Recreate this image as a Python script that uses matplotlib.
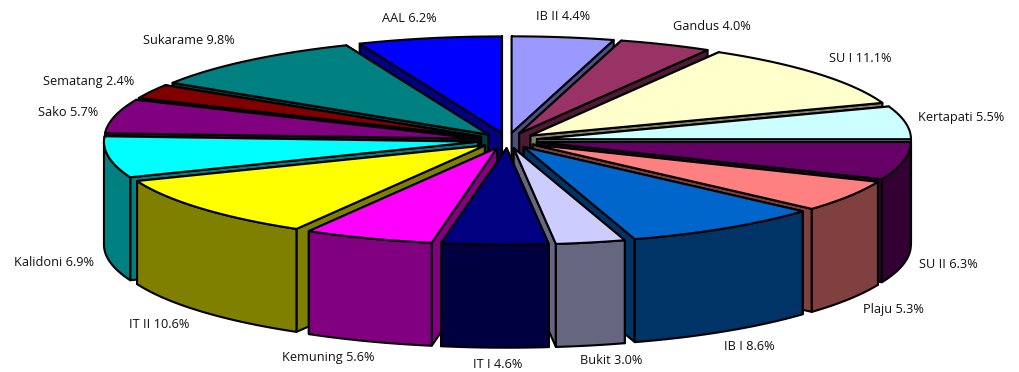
import numpy as np
import matplotlib
matplotlib.use('Agg')
from matplotlib import pyplot as plt
from matplotlib.colors import to_rgb
from matplotlib.patches import Polygon

plt.rcParams['font.family'] = ['Open Sans', 'DejaVu Sans']

names = ['IB II', 'Gandus', 'SU I', 'Kertapati', 'SU II', 'Plaju', 'IB I', 'Bukit',
         'IT I', 'Kemuning', 'IT II', 'Kalidoni', 'Sako', 'Sematang', 'Sukarame', 'AAL']
shares = [4.4, 4.0, 11.1, 5.5, 6.3, 5.3, 8.6, 3.0,
          4.6, 5.6, 10.6, 6.9, 5.7, 2.4, 9.8, 6.2]
colors = ['#9999FF', '#993366', '#FFFFCC', '#CCFFFF', '#660066', '#FF8080', '#0066CC', '#CCCCFF',
          '#000080', '#FF00FF', '#FFFF00', '#00FFFF', '#800080', '#800000', '#008080', '#0000FF']

# label centres in figure pixels
label_pos = [(563, 17), (712, 26), (860, 58), (961, 118), (948, 265), (893, 309), (749, 347), (611, 361),
             (498, 364), (328, 357), (159, 325), (54, 262), (68, 112), (89, 81), (189, 41), (409, 19)]

# disc geometry
cx, cy = 507.5, 140.5
rx, ry = 374, 96.5
depth = 103
explode = 30 / 375.0
lw = 1.5


def rim(theta, r=1.0):
    # theta in radians, clockwise from 12 o'clock
    return np.column_stack([r * rx * np.sin(theta), -r * ry * np.cos(theta)])


def face(ax, pts, color, z):
    ax.add_patch(Polygon(pts, closed=True, facecolor=color, edgecolor='black',
                         linewidth=lw, joinstyle='round', zorder=z))


fig = plt.figure(figsize=(10.2, 3.72), dpi=100)
ax = fig.add_axes([0, 0, 1, 1])
ax.set_xlim(0, 1020)
ax.set_ylim(372, 0)
ax.axis('off')

edges = np.cumsum([0] + shares) / np.sum(shares) * 2 * np.pi
mids = (edges[:-1] + edges[1:]) / 2

# back slices first, front slices paint over them
order = np.argsort(-np.cos(mids))
z = 1
for i in order:
    a0, a1 = edges[i], edges[i + 1]
    apex = np.array([cx, cy]) + rim(np.array([mids[i]]), explode)
    arc = apex + rim(np.linspace(a0, a1, 60))
    drop = np.array([0, depth])
    shade = tuple(c * 0.5 for c in to_rgb(colors[i]))

    # straight cut walls, the one nearer the viewer last
    walls = [(apex[0], arc[0]), (apex[0], arc[-1])]
    walls.sort(key=lambda w: w[1][1])
    for p, q in walls:
        face(ax, [p, q, q + drop, p + drop], shade, z)
        z += 1

    # curved wall, only the part on the front half of the disc
    lo, hi = max(a0, np.pi / 2), min(a1, 3 * np.pi / 2)
    if lo < hi:
        front = apex + rim(np.linspace(lo, hi, 60))
        face(ax, np.vstack([front, (front + drop)[::-1]]), shade, z)
        z += 1

    face(ax, np.vstack([apex, arc]), colors[i], z)
    z += 1

for name, share, (x, y) in zip(names, shares, label_pos):
    ax.text(x, y, f'{name} {share:.1f}%', ha='center', va='center', fontsize=9.2,
            color='#111111', zorder=z)

fig.savefig('out.png', dpi=100)
